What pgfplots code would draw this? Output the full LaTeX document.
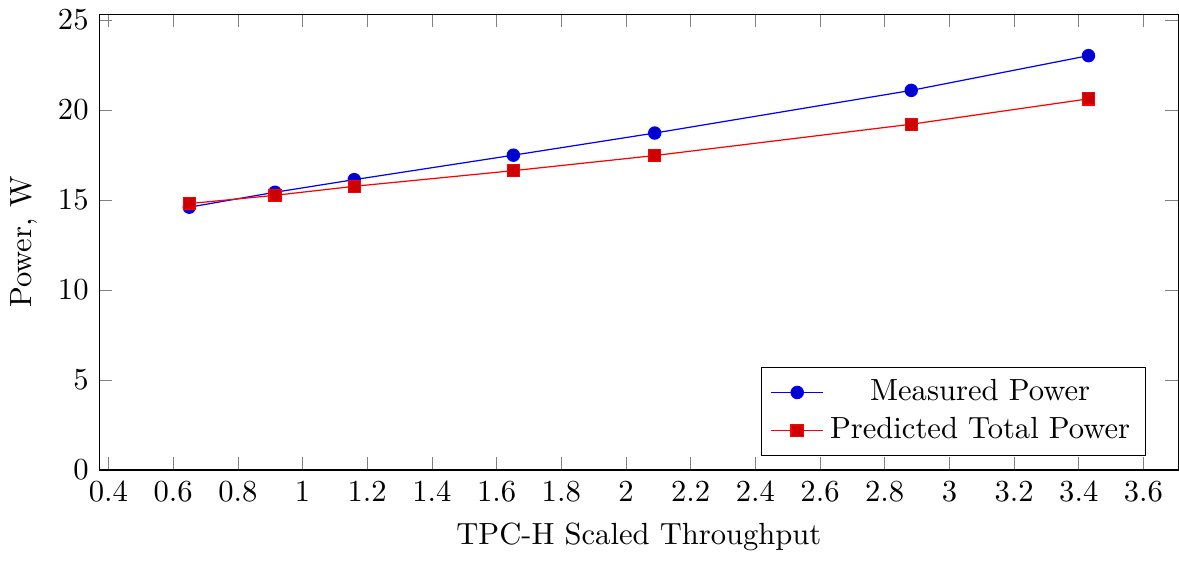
\documentclass[border=0pt]{standalone}
\usepackage{pgfplots}
\pgfplotsset{compat=1.18}
\begin{document}
\begin{tikzpicture}
\begin{axis}[
  scale only axis,
  width=352.8pt, height=149pt,
  ymin=0,
  xtick={0.4,0.6,...,3.61},
  xticklabels={0.4,0.6,0.8,1,1.2,1.4,1.6,1.8,2,2.2,2.4,2.6,2.8,3,3.2,3.4,3.6},
  xlabel={TPC-H Scaled Throughput},
  ylabel={Power, W},
  legend pos=south east,
  legend cell align=center,
]
\addplot coordinates {(0.65,14.6) (0.915,15.43) (1.16,16.13) (1.652,17.49) (2.089,18.72) (2.882,21.09) (3.43,23.02)};
\addlegendentry{Measured Power}
\addplot coordinates {(0.65,14.8) (0.915,15.26) (1.16,15.76) (1.652,16.63) (2.089,17.47) (2.882,19.21) (3.43,20.62)};
\addlegendentry{Predicted Total Power}
\end{axis}
\end{tikzpicture}
\end{document}
